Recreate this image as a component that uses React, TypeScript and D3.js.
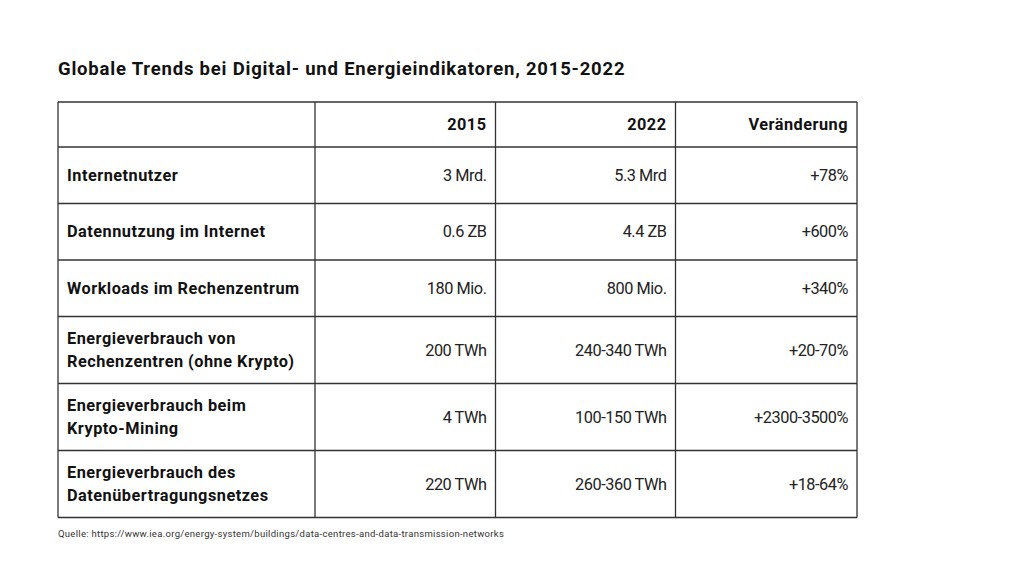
import React from "react";
import * as d3 from "d3";

const title = "Globale Trends bei Digital- und Energieindikatoren, 2015-2022";
const headers = ["", "2015", "2022", "Veränderung"];
const indicators = [
  ["Internetnutzer"],
  ["Datennutzung im Internet"],
  ["Workloads im Rechenzentrum"],
  ["Energieverbrauch von", "Rechenzentren (ohne Krypto)"],
  ["Energieverbrauch beim", "Krypto-Mining"],
  ["Energieverbrauch des", "Datenübertragungsnetzes"],
];
const values2015 = ["3 Mrd.", "0.6 ZB", "180 Mio.", "200 TWh", "4 TWh", "220 TWh"];
const values2022 = ["5.3 Mrd", "4.4 ZB", "800 Mio.", "240-340 TWh", "100-150 TWh", "260-360 TWh"];
const changes = ["+78%", "+600%", "+340%", "+20-70%", "+2300-3500%", "+18-64%"];
const source = "Quelle: https://www.iea.org/energy-system/buildings/data-centres-and-data-transmission-networks";

const W = 1024, H = 576;
const FONT = "Roboto, 'Noto Sans', sans-serif";
const colEdges = [58, 315, 495.5, 675.5, 857];
const headerH = 45;
const singleH = 56.5;
const doubleH = 67;
const tableTop = 102;

export default function App() {
  const rowHeights = [headerH, ...indicators.map((l) => (l.length > 1 ? doubleH : singleH))];
  const rowEdges = [tableTop];
  rowHeights.forEach((h) => rowEdges.push(rowEdges[rowEdges.length - 1] + h));
  const y = d3.scaleLinear().domain([0, 1]).range([0, 1]);
  const lineColor = "#333";
  const pad = 9;
  const fs = 16.3;
  const lineGap = 22.5;
  const boldLS = 0.5;
  const regLS = -0.45;

  const cells: React.ReactNode[] = [];
  headers.forEach((h, ci) => {
    if (!h) return;
    cells.push(
      <text key={"h" + ci} x={colEdges[ci + 1] - pad} y={(rowEdges[0] + rowEdges[1]) / 2}
        textAnchor="end" dominantBaseline="central" fontWeight={700} fontSize={fs} letterSpacing={boldLS} fill="#111">{h}</text>
    );
  });
  indicators.forEach((lines, ri) => {
    const top = rowEdges[ri + 1], bot = rowEdges[ri + 2];
    const cy = y((top + bot) / 2);
    const n = lines.length;
    lines.forEach((ln, li) => {
      cells.push(
        <text key={`l${ri}-${li}`} x={colEdges[0] + pad} y={cy + (li - (n - 1) / 2) * lineGap}
          dominantBaseline="central" fontWeight={700} fontSize={fs} letterSpacing={boldLS} fill="#111">{ln}</text>
      );
    });
    [values2015[ri], values2022[ri], changes[ri]].forEach((v, ci) => {
      cells.push(
        <text key={`v${ri}-${ci}`} x={colEdges[ci + 2] - pad} y={cy}
          textAnchor="end" dominantBaseline="central" fontWeight={400} fontSize={fs} letterSpacing={regLS} fill="#222">{v}</text>
      );
    });
  });

  const tBottom = rowEdges[rowEdges.length - 1];
  return (
    <svg width={W} height={H} style={{ position: "absolute", left: 0, top: 0, background: "#fff" }} fontFamily={FONT}>
      <rect width={W} height={H} fill="#fff" />
      <text x={58} y={75} fontWeight={700} fontSize={18.5} letterSpacing={0.8} fill="#111">{title}</text>
      {rowEdges.map((ry, i) => (
        <line key={"r" + i} x1={colEdges[0]} x2={colEdges[colEdges.length - 1]} y1={ry} y2={ry} stroke={lineColor} strokeWidth={1.3} />
      ))}
      {colEdges.map((cx, i) => (
        <line key={"c" + i} x1={cx} x2={cx} y1={tableTop} y2={tBottom} stroke={lineColor} strokeWidth={1.3} />
      ))}
      {cells}
      <text x={58} y={537} fontSize={9.5} letterSpacing={0.3} fill="#333">{source}</text>
    </svg>
  );
}
